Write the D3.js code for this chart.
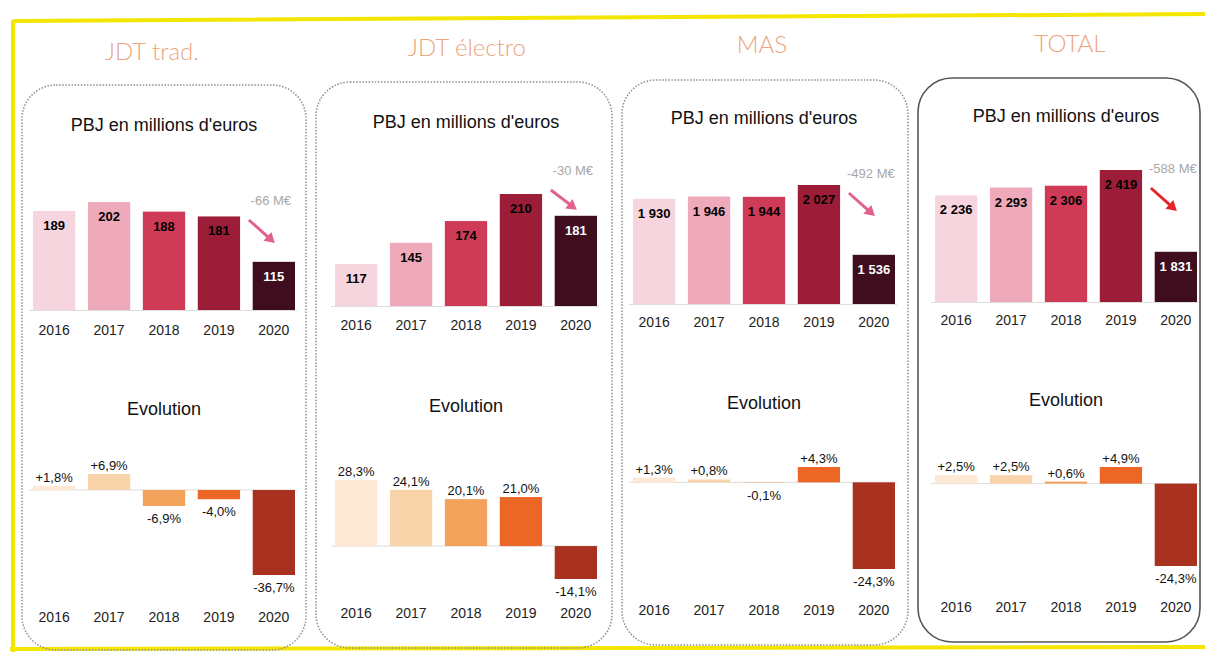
<!DOCTYPE html>
<html>
<head>
<meta charset="utf-8">
<script src="https://cdn.jsdelivr.net/npm/d3@7"></script>
<style>
  body { margin: 0; background: #fff; }
  text { font-family: "Liberation Sans", Arial, sans-serif; }
</style>
</head>
<body>
<svg width="1205" height="653"></svg>
<script>
// donnees
const years = ['2016', '2017', '2018', '2019', '2020'];
const segments = ['JDT trad.', 'JDT électro', 'MAS', 'TOTAL'];

// PBJ en millions d'euros
const pbjJdtTrad = [189, 202, 188, 181, 115];
const pbjJdtElectro = [117, 145, 174, 210, 181];
const pbjMas = [1930, 1946, 1944, 2027, 1536];
const pbjTotal = [2236, 2293, 2306, 2419, 1831];
// bas de l'axe (l'axe ne part pas de zero)
const pbjAxisMin = [45, 61, 1190, 1470];

// evolution en %
const evoJdtTrad = [1.8, 6.9, -6.9, -4.0, -36.7];
const evoJdtElectro = [28.3, 24.1, 20.1, 21.0, -14.1];
const evoMas = [1.3, 0.8, -0.1, 4.3, -24.3];
const evoTotal = [2.5, 2.5, 0.6, 4.9, -24.3];
const evoSigned = [true, false, true, true];

// ecart 2019 -> 2020
const deltaLabels = ['-66 M€', '-30 M€', '-492 M€', '-588 M€'];

const pbj = [pbjJdtTrad, pbjJdtElectro, pbjMas, pbjTotal];
const evo = [evoJdtTrad, evoJdtElectro, evoMas, evoTotal];

const barColors = ['#f7d5df', '#eeaabb', '#cf3a57', '#9c1d38', '#3e0e1f'];
const evoColors = ['#fde9d4', '#f9d3aa', '#f3a25c', '#ec6626', '#a9311f'];
const arrowColors = ['#e2628b', '#e2628b', '#e2628b', '#e3262c'];

// mise en page par panneau (le scan est un peu penche)
const layout = [
  {x0: 22, x1: 306, y0: 85, y1: 650, titleX: 152, titleY: 60, subY: 131, chartX: 33, barBase: 310, barH: 108, deltaY: 205, yearY: 335, evoTitleY: 415, evoTop: 474, evoBottom: 575, evoYearY: 622, solid: false},
  {x0: 316, x1: 612, y0: 82, y1: 648, titleX: 467, titleY: 56, subY: 128, chartX: 335, barBase: 306, barH: 112, deltaY: 175, yearY: 330, evoTitleY: 412, evoTop: 480, evoBottom: 579, evoYearY: 618, solid: false},
  {x0: 622, x1: 908, y0: 80, y1: 645, titleX: 762, titleY: 53, subY: 124, chartX: 633, barBase: 304, barH: 119, deltaY: 178, yearY: 327, evoTitleY: 409, evoTop: 467, evoBottom: 569, evoYearY: 615, solid: false},
  {x0: 918, x1: 1200, y0: 78, y1: 642, titleX: 1070, titleY: 52, subY: 122, chartX: 935, barBase: 302, barH: 132, deltaY: 173, yearY: 325, evoTitleY: 406, evoTop: 467, evoBottom: 566, evoYearY: 612, solid: true}
];
const chartW = 262;

const fr = d3.formatLocale({decimal: ',', thousands: '\u00a0', grouping: [3], currency: ['', '€'], minus: '-'});
const fmtInt = fr.format(',');
const fmtSigned = fr.format('+.1f');
const fmtPlain = fr.format('.1f');

const svg = d3.select('svg');

// cadre jaune
svg.append('path')
  .attr('d', 'M13,21 L1210,14 M13,20 L13,652 M10,649 L1210,647')
  .attr('fill', 'none')
  .attr('stroke', '#f4e600')
  .attr('stroke-width', 4);

segments.forEach((name, i) => {
  const L = layout[i];
  const g = svg.append('g');

  // cadre arrondi
  g.append('rect')
    .attr('x', L.x0).attr('y', L.y0)
    .attr('width', L.x1 - L.x0).attr('height', L.y1 - L.y0)
    .attr('rx', 34).attr('ry', 34)
    .attr('fill', 'none')
    .attr('stroke', L.solid ? '#555' : '#8f8f8f')
    .attr('stroke-width', L.solid ? 1.6 : 1.5)
    .attr('stroke-dasharray', L.solid ? null : '1.5,1.6');

  // titre du segment
  g.append('text')
    .attr('x', L.titleX).attr('y', L.titleY)
    .attr('text-anchor', 'middle')
    .style('font-family', 'Lato, "Open Sans", sans-serif')
    .style('font-weight', 300)
    .style('font-size', '24px')
    .attr('fill', '#eba47d')
    .text(name);

  const x = d3.scaleBand()
    .domain(years)
    .range([L.chartX, L.chartX + chartW])
    .paddingInner(0.23)
    .paddingOuter(0);
  const cx = bx => bx + x.bandwidth() / 2;
  const mid = L.chartX + chartW / 2;

  // ---- PBJ ----
  g.append('text')
    .attr('x', mid).attr('y', L.subY)
    .attr('text-anchor', 'middle')
    .style('font-size', '18px')
    .attr('fill', '#111')
    .text("PBJ en millions d'euros");

  const vals = pbj[i];
  const y = d3.scaleLinear()
    .domain([pbjAxisMin[i], d3.max(vals)])
    .range([L.barBase, L.barBase - L.barH]);

  g.append('line')
    .attr('x1', L.chartX - 4).attr('x2', L.chartX + chartW + 2)
    .attr('y1', L.barBase + 0.5).attr('y2', L.barBase + 0.5)
    .attr('stroke', '#ddd');

  g.selectAll('rect.pbj').data(vals)
    .enter().append('rect')
      .attr('class', 'pbj')
      .attr('x', (d, j) => x(years[j]))
      .attr('y', d => y(d))
      .attr('width', x.bandwidth())
      .attr('height', d => L.barBase - y(d))
      .attr('fill', (d, j) => barColors[j]);

  g.selectAll('text.pbjv').data(vals)
    .enter().append('text')
      .attr('class', 'pbjv')
      .attr('x', (d, j) => cx(x(years[j])))
      .attr('y', d => y(d) + 19)
      .attr('text-anchor', 'middle')
      .style('font-size', '13px')
      .style('font-weight', 'bold')
      .attr('fill', (d, j) => j === 4 ? '#fff' : '#000')
      .text(d => fmtInt(d));

  g.selectAll('text.yr').data(years)
    .enter().append('text')
      .attr('class', 'yr')
      .attr('x', d => cx(x(d)))
      .attr('y', L.yearY)
      .attr('text-anchor', 'middle')
      .style('font-size', '14px')
      .attr('fill', '#222')
      .text(d => d);

  // ecart 2019 -> 2020 avec fleche
  const tx = cx(x('2020')) - 3;
  const ty = L.deltaY;
  g.append('text')
    .attr('x', tx).attr('y', ty)
    .attr('text-anchor', 'middle')
    .style('font-size', '13px')
    .attr('fill', '#a8a8a8')
    .text(deltaLabels[i]);
  const ax0 = tx - 22, ay0 = ty + 15;
  const ax1 = tx + 4, ay1 = Math.min(ty + 38, y(vals[4]) - 6);
  const ang = Math.atan2(ay1 - ay0, ax1 - ax0);
  g.append('line')
    .attr('x1', ax0).attr('y1', ay0)
    .attr('x2', ax1 - 6 * Math.cos(ang)).attr('y2', ay1 - 6 * Math.sin(ang))
    .attr('stroke', arrowColors[i])
    .attr('stroke-width', 3);
  const hl = 10, hw = 6;
  const bx = ax1 - hl * Math.cos(ang), by = ay1 - hl * Math.sin(ang);
  g.append('path')
    .attr('d', `M${ax1},${ay1} L${bx + hw * Math.sin(ang)},${by - hw * Math.cos(ang)} L${bx - hw * Math.sin(ang)},${by + hw * Math.cos(ang)} Z`)
    .attr('fill', arrowColors[i]);

  // ---- Evolution ----
  g.append('text')
    .attr('x', mid).attr('y', L.evoTitleY)
    .attr('text-anchor', 'middle')
    .style('font-size', '18px')
    .attr('fill', '#111')
    .text('Evolution');

  const ev = evo[i];
  const ye = d3.scaleLinear()
    .domain([Math.min(0, d3.min(ev)), Math.max(0, d3.max(ev))])
    .range([L.evoBottom, L.evoTop]);
  const y0 = ye(0);

  g.append('line')
    .attr('x1', L.chartX - 4).attr('x2', L.chartX + chartW + 2)
    .attr('y1', y0).attr('y2', y0)
    .attr('stroke', '#ddd');

  g.selectAll('rect.evo').data(ev)
    .enter().append('rect')
      .attr('class', 'evo')
      .attr('x', (d, j) => x(years[j]))
      .attr('y', d => Math.min(ye(d), y0))
      .attr('width', x.bandwidth())
      .attr('height', d => Math.abs(ye(d) - y0))
      .attr('fill', (d, j) => evoColors[j]);

  const fmtEvo = evoSigned[i] ? fmtSigned : fmtPlain;
  g.selectAll('text.evov').data(ev)
    .enter().append('text')
      .attr('class', 'evov')
      .attr('x', (d, j) => cx(x(years[j])))
      .attr('y', d => d >= 0 ? ye(d) - 4 : ye(d) + 17)
      .attr('text-anchor', 'middle')
      .style('font-size', '13px')
      .attr('fill', '#111')
      .text(d => (d < 0 ? fmtPlain(d) : fmtEvo(d)) + '%');

  g.selectAll('text.yr2').data(years)
    .enter().append('text')
      .attr('class', 'yr2')
      .attr('x', d => cx(x(d)))
      .attr('y', L.evoYearY)
      .attr('text-anchor', 'middle')
      .style('font-size', '14px')
      .attr('fill', '#222')
      .text(d => d);
});
</script>
</body>
</html>
